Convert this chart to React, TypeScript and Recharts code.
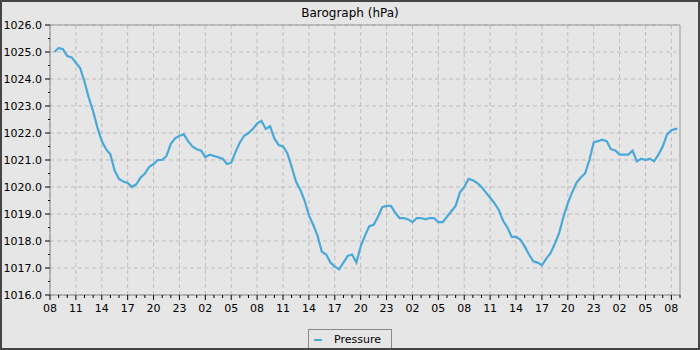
import React from "react";
import { LineChart, Line, XAxis, YAxis, CartesianGrid, ReferenceLine, Legend } from "recharts";

const hours = [
  0.5, 1, 1.5, 2, 2.5, 3, 3.5, 4, 4.5, 5, 5.5, 6, 6.5, 7, 7.5, 8, 8.5, 9, 9.5, 10,
  10.5, 11, 11.5, 12, 12.5, 13, 13.5, 14, 14.5, 15, 15.5, 16, 16.5, 17, 17.5, 18, 18.5, 19, 19.5, 20,
  20.5, 21, 21.5, 22, 22.5, 23, 23.5, 24, 24.5, 25, 25.5, 26, 26.5, 27, 27.5, 28, 28.5, 29, 29.5, 30,
  30.5, 31, 31.5, 32, 32.5, 33, 33.5, 34, 34.5, 35, 35.5, 36, 36.5, 37, 37.5, 38, 38.5, 39, 39.5, 40,
  40.5, 41, 41.5, 42, 42.5, 43, 43.5, 44, 44.5, 45, 45.5, 46, 46.5, 47, 47.5, 48, 48.5, 49, 49.5, 50,
  50.5, 51, 51.5, 52, 52.5, 53, 53.5, 54, 54.5, 55, 55.5, 56, 56.5, 57, 57.5, 58, 58.5, 59, 59.5, 60,
  60.5, 61, 61.5, 62, 62.5, 63, 63.5, 64, 64.5, 65, 65.5, 66, 66.5, 67, 67.5, 68, 68.5, 69, 69.5, 70,
  70.5, 71, 71.5, 72, 72.5, 72.7,
];

const pressure = [
  1025.0, 1025.15, 1025.1, 1024.85, 1024.8, 1024.6, 1024.4, 1023.9, 1023.3, 1022.8,
  1022.2, 1021.7, 1021.4, 1021.2, 1020.6, 1020.3, 1020.2, 1020.15, 1020.0, 1020.1,
  1020.35, 1020.5, 1020.75, 1020.85, 1021.0, 1021.0, 1021.15, 1021.6, 1021.8, 1021.9,
  1021.95, 1021.7, 1021.5, 1021.4, 1021.35, 1021.1, 1021.2, 1021.15, 1021.1, 1021.05,
  1020.85, 1020.9, 1021.3, 1021.65, 1021.9, 1022.0, 1022.15, 1022.35, 1022.45, 1022.15,
  1022.25, 1021.8, 1021.55, 1021.5, 1021.25, 1020.75, 1020.2, 1019.9, 1019.5, 1018.95,
  1018.6, 1018.2, 1017.6, 1017.5, 1017.2, 1017.05, 1016.95, 1017.2, 1017.45, 1017.5,
  1017.2, 1017.8, 1018.2, 1018.55, 1018.6, 1018.9, 1019.25, 1019.3, 1019.3, 1019.05,
  1018.85, 1018.85, 1018.8, 1018.7, 1018.85, 1018.85, 1018.8, 1018.85, 1018.85, 1018.7,
  1018.7, 1018.9, 1019.1, 1019.3, 1019.8, 1020.0, 1020.3, 1020.25, 1020.15, 1020.0,
  1019.8, 1019.6, 1019.4, 1019.15, 1018.75, 1018.5, 1018.15, 1018.15, 1018.05, 1017.8,
  1017.5, 1017.25, 1017.2, 1017.1, 1017.35, 1017.55, 1017.9, 1018.3, 1018.9, 1019.4,
  1019.8, 1020.15, 1020.35, 1020.5, 1021.0, 1021.65, 1021.7, 1021.75, 1021.7, 1021.4,
  1021.35, 1021.2, 1021.2, 1021.2, 1021.35, 1020.95, 1021.05, 1021.0, 1021.05, 1020.95,
  1021.2, 1021.5, 1021.95, 1022.1, 1022.15, 1022.15,
];

const hourTickLabels = [
  "08", "11", "14", "17", "20", "23", "02", "05",
  "08", "11", "14", "17", "20", "23", "02", "05",
  "08", "11", "14", "17", "20", "23", "02", "05", "08",
];

const majorHours = hourTickLabels.map((_, i) => i * 3);
const minorHours = Array.from({ length: 74 }, (_, i) => i);
const yMajor = [1016, 1017, 1018, 1019, 1020, 1021, 1022, 1023, 1024, 1025, 1026];
const yTicks = Array.from({ length: 21 }, (_, i) => 1016 + i * 0.5);

const data = hours.map((h, i) => ({ h, p: pressure[i] }));

const FONT = "'DejaVu Sans', sans-serif";
const LINE = "#4aa8d8";

const XTick = (props: any) => {
  const { x, y, payload } = props;
  const v = payload.value as number;
  const major = v % 3 === 0;
  return (
    <g>
      <line x1={x} y1={y} x2={x} y2={y + (major ? 5 : 3)} stroke="#000" strokeWidth={1} />
      {major && (
        <text x={x} y={y + 17} textAnchor="middle" fontSize={11} fontFamily={FONT} fill="#000">
          {hourTickLabels[v / 3]}
        </text>
      )}
    </g>
  );
};

const YTick = (props: any) => {
  const { x, y, payload } = props;
  const v = payload.value as number;
  const major = Math.abs(v - Math.round(v)) < 1e-6;
  return (
    <g>
      <line x1={x - (major ? 5 : 2)} y1={y} x2={x} y2={y} stroke="#000" strokeWidth={1} />
      {major && (
        <text x={x - 8} y={y + 4} textAnchor="end" fontSize={11} fontFamily={FONT} fill="#000">
          {v.toFixed(1)}
        </text>
      )}
    </g>
  );
};

const LegendBox = () => (
  <div
    style={{
      width: 84,
      height: 20,
      margin: "0 auto",
      border: "1px solid #8a8a8a",
      boxSizing: "border-box",
      display: "flex",
      alignItems: "center",
      fontFamily: FONT,
      fontSize: 11,
      color: "#000",
      position: "relative",
      left: 10,
    }}
  >
    <svg width={24} height={18} style={{ display: "block" }}>
      <line x1={5} y1={10} x2={13} y2={10} stroke={LINE} strokeWidth={2} />
    </svg>
    <span style={{ marginLeft: 1 }}>Pressure</span>
  </div>
);

export default function App() {
  return (
    <div style={{ position: "absolute", left: 0, top: 0, width: 700, height: 350, background: "#e6e6e6" }}>
      <LineChart width={700} height={350} data={data} margin={{ top: 25, right: 20, left: 0, bottom: 1 }}>
        <CartesianGrid
          stroke="#bdbdbd"
          strokeDasharray="4 3"
          horizontalValues={yMajor}
          verticalValues={majorHours}
        />
        <XAxis
          dataKey="h"
          type="number"
          domain={[0, 73]}
          ticks={minorHours}
          interval={0}
          height={34}
          tickSize={0}
          tickMargin={0}
          tick={<XTick />}
          axisLine={{ stroke: "#888" }}
        />
        <YAxis
          type="number"
          domain={[1016, 1026]}
          ticks={yTicks}
          interval={0}
          width={50}
          tickSize={0}
          tickMargin={0}
          tick={<YTick />}
          axisLine={{ stroke: "#888" }}
        />
        <ReferenceLine y={1026} stroke="#999" strokeWidth={1} />
        <ReferenceLine x={73} stroke="#999" strokeWidth={1} />
        <Legend verticalAlign="bottom" height={20} content={() => <LegendBox />} />
        <Line
          type="linear"
          dataKey="p"
          name="Pressure"
          stroke={LINE}
          strokeWidth={2.2}
          strokeLinejoin="miter"
          dot={false}
          isAnimationActive={false}
        />
      </LineChart>
      <svg width={700} height={350} style={{ position: "absolute", left: 0, top: 0, pointerEvents: "none" }}>
        <text x={350} y={17} textAnchor="middle" fontSize={12} fontFamily={FONT} fill="#000">
          Barograph (hPa)
        </text>
        <rect x={1} y={1} width={698} height={348} fill="none" stroke="#454545" strokeWidth={2} />
      </svg>
    </div>
  );
}
